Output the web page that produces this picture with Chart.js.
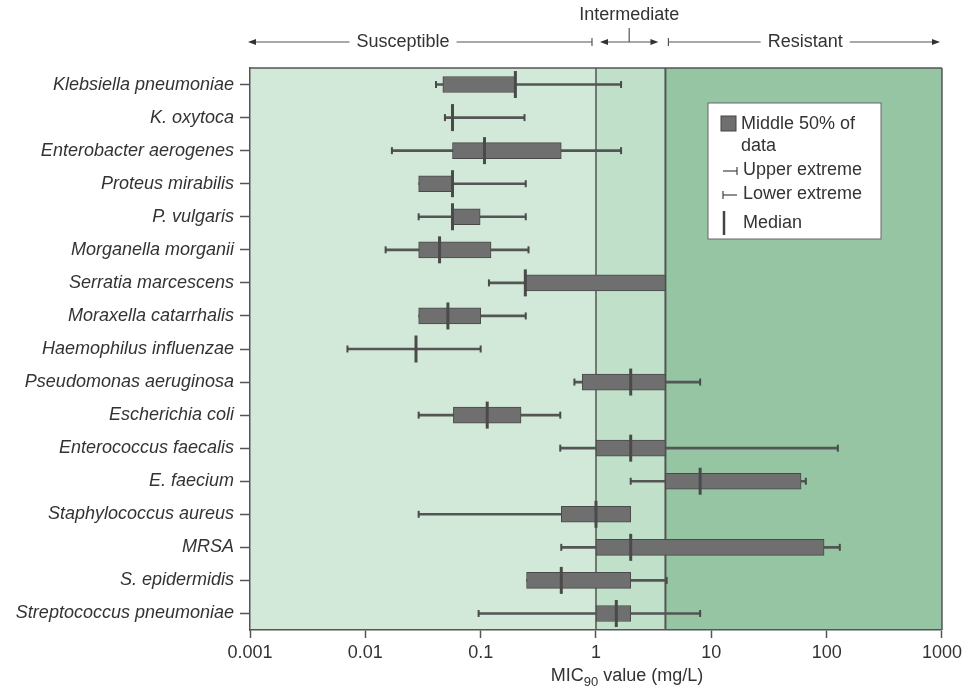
<!DOCTYPE html>
<html lang="en">
  <head>
    <meta charset="UTF-8" />
    <title>MIC90 ranges by organism</title>
    <script src="https://cdn.jsdelivr.net/npm/chart.js"></script>
    <style>
      html,
      body {
        margin: 0;
        padding: 0;
        background: #fff;
      }
      #wrapper {
        width: 966px;
        height: 689px;
      }
    </style>
  </head>
  <body>
    <div id="wrapper">
      <canvas id="micChart"></canvas>
    </div>

    <script>
      // values (mg/L)
      var organisms = [
        "Klebsiella pneumoniae",
        "K. oxytoca",
        "Enterobacter aerogenes",
        "Proteus mirabilis",
        "P. vulgaris",
        "Morganella morganii",
        "Serratia marcescens",
        "Moraxella catarrhalis",
        "Haemophilus influenzae",
        "Pseudomonas aeruginosa",
        "Escherichia coli",
        "Enterococcus faecalis",
        "E. faecium",
        "Staphylococcus aureus",
        "MRSA",
        "S. epidermidis",
        "Streptococcus pneumoniae",
      ];
      var lowerExtreme = [0.041, 0.049, 0.017, 0.029, 0.029, 0.015, 0.118, 0.029, 0.007, 0.65, 0.029, 0.49, 2, 0.029, 0.5, 0.25, 0.096];
      var quartile1 = [0.047, 0.057, 0.057, 0.029, 0.057, 0.029, 0.244, 0.029, 0.0275, 0.76, 0.058, 1, 4, 0.5, 1, 0.25, 1];
      var medians = [0.2, 0.057, 0.108, 0.057, 0.057, 0.044, 0.244, 0.052, 0.0275, 2, 0.114, 2, 8, 1, 2, 0.5, 1.5];
      var quartile3 = [0.2, 0.057, 0.5, 0.057, 0.099, 0.123, 4, 0.1, 0.0275, 4, 0.224, 4, 60, 2, 95, 2, 2];
      var upperExtreme = [1.65, 0.24, 1.65, 0.246, 0.246, 0.26, 4, 0.246, 0.1, 8, 0.49, 125, 66, 2, 130, 4.1, 8];
      var xTicks = [0.001, 0.01, 0.1, 1, 10, 100, 1000];
      var intermediateFrom = 1;
      var resistantFrom = 4;

      var FONT = "'Liberation Sans', Arial, Helvetica, sans-serif";
      var LINE = "#555";

      // build floating bar data from the arrays
      var boxes = [];
      var whiskers = [];
      for (var i = 0; i < organisms.length; i++) {
        boxes.push(quartile3[i] > quartile1[i] ? [quartile1[i], quartile3[i]] : null);
        whiskers.push(upperExtreme[i] > lowerExtreme[i] ? [lowerExtreme[i], upperExtreme[i]] : null);
      }

      function vline(ctx, x, y1, y2) {
        ctx.beginPath();
        ctx.moveTo(x, y1);
        ctx.lineTo(x, y2);
        ctx.stroke();
      }
      function hline(ctx, x1, x2, y) {
        ctx.beginPath();
        ctx.moveTo(x1, y);
        ctx.lineTo(x2, y);
        ctx.stroke();
      }
      function arrowHead(ctx, x, y, dir) {
        ctx.beginPath();
        ctx.moveTo(x, y);
        ctx.lineTo(x - dir * 8, y - 3);
        ctx.lineTo(x - dir * 8, y + 3);
        ctx.closePath();
        ctx.fill();
      }

      // shaded susceptible / intermediate / resistant bands
      var bandsPlugin = {
        id: "bands",
        beforeDraw: function (chart) {
          var ctx = chart.ctx;
          var a = chart.chartArea;
          var x = chart.scales.x;
          var xi = x.getPixelForValue(intermediateFrom);
          var xr = x.getPixelForValue(resistantFrom);
          ctx.save();
          ctx.fillStyle = "#d2e8d8";
          ctx.fillRect(a.left, a.top, xi - a.left, a.bottom - a.top);
          ctx.fillStyle = "#c0e0c9";
          ctx.fillRect(xi, a.top, xr - xi, a.bottom - a.top);
          ctx.fillStyle = "#95c5a2";
          ctx.fillRect(xr, a.top, a.right - xr, a.bottom - a.top);
          ctx.restore();
        },
        beforeDatasetsDraw: function (chart) {
          var ctx = chart.ctx;
          var a = chart.chartArea;
          var x = chart.scales.x;
          ctx.save();
          ctx.strokeStyle = LINE;
          ctx.lineWidth = 1.5;
          vline(ctx, x.getPixelForValue(intermediateFrom), a.top, a.bottom);
          ctx.lineWidth = 2;
          vline(ctx, x.getPixelForValue(resistantFrom), a.top, a.bottom);
          ctx.lineWidth = 1.5;
          hline(ctx, a.left, a.right, a.top);
          vline(ctx, a.right, a.top, a.bottom);
          ctx.restore();
        },
      };

      // median bars and whisker caps
      var marksPlugin = {
        id: "marks",
        afterDatasetsDraw: function (chart) {
          var ctx = chart.ctx;
          var x = chart.scales.x;
          var y = chart.scales.y;
          ctx.save();
          ctx.strokeStyle = "#4a4a4a";
          for (var i = 0; i < organisms.length; i++) {
            var cy = y.getPixelForValue(i);
            ctx.lineWidth = 2;
            if (lowerExtreme[i] < quartile1[i]) vline(ctx, x.getPixelForValue(lowerExtreme[i]), cy - 3.5, cy + 3.5);
            if (upperExtreme[i] > quartile3[i]) vline(ctx, x.getPixelForValue(upperExtreme[i]), cy - 3.5, cy + 3.5);
            ctx.lineWidth = 3;
            vline(ctx, x.getPixelForValue(medians[i]), cy - 13.5, cy + 13.5);
          }
          ctx.restore();
        },
      };

      // header arrows, legend box, axis title
      var notesPlugin = {
        id: "notes",
        afterDraw: function (chart) {
          var ctx = chart.ctx;
          var a = chart.chartArea;
          var x = chart.scales.x;
          var xi = x.getPixelForValue(intermediateFrom);
          var xr = x.getPixelForValue(resistantFrom);
          var ty = 42;
          ctx.save();
          ctx.font = "18px " + FONT;
          ctx.fillStyle = "#333";
          ctx.strokeStyle = LINE;
          ctx.lineWidth = 1.2;
          ctx.textBaseline = "middle";
          ctx.textAlign = "center";

          // susceptible
          var sEnd = xi - 4;
          var sMid = 403;
          var sw = ctx.measureText("Susceptible").width / 2 + 7;
          ctx.fillText("Susceptible", sMid, ty);
          hline(ctx, a.left, sMid - sw, ty);
          hline(ctx, sMid + sw, sEnd, ty);
          arrowHead(ctx, a.left - 2, ty, -1);
          vline(ctx, sEnd, ty - 4, ty + 4);

          // intermediate
          var iL = xi + 4, iR = xr - 7, iMid = (iL + iR) / 2;
          hline(ctx, iL + 4, iR - 4, ty);
          arrowHead(ctx, iL, ty, -1);
          arrowHead(ctx, iR, ty, 1);
          vline(ctx, iMid, ty - 14, ty);
          ctx.fillText("Intermediate", iMid, 15);

          // resistant
          var rStart = xr + 3;
          var rMid = (rStart + a.right) / 2;
          var rw = ctx.measureText("Resistant").width / 2 + 7;
          ctx.fillText("Resistant", rMid, ty);
          vline(ctx, rStart, ty - 4, ty + 4);
          hline(ctx, rStart, rMid - rw, ty);
          hline(ctx, rMid + rw, a.right - 4, ty);
          arrowHead(ctx, a.right - 2, ty, 1);

          // legend
          var lx = 708, ly = 103;
          ctx.fillStyle = "#fff";
          ctx.fillRect(lx, ly, 173, 136);
          ctx.strokeStyle = "#666";
          ctx.lineWidth = 1;
          ctx.strokeRect(lx, ly, 173, 136);
          ctx.fillStyle = "#6f6f6f";
          ctx.fillRect(lx + 13, ly + 13, 15, 15);
          ctx.strokeStyle = "#444";
          ctx.strokeRect(lx + 13, ly + 13, 15, 15);
          ctx.fillStyle = "#333";
          ctx.textAlign = "left";
          ctx.fillText("Middle 50% of", lx + 33, ly + 21);
          ctx.fillText("data", lx + 33, ly + 43);
          ctx.fillText("Upper extreme", lx + 35, ly + 67);
          ctx.fillText("Lower extreme", lx + 35, ly + 91);
          ctx.fillText("Median", lx + 35, ly + 120);
          ctx.strokeStyle = "#444";
          ctx.lineWidth = 1.2;
          hline(ctx, lx + 15, lx + 29, ly + 68);
          vline(ctx, lx + 29, ly + 64, ly + 72);
          hline(ctx, lx + 15, lx + 29, ly + 92);
          vline(ctx, lx + 15, ly + 88, ly + 96);
          ctx.lineWidth = 2.5;
          vline(ctx, lx + 16, ly + 108, ly + 132);

          // x axis title with subscript
          ctx.fillStyle = "#333";
          ctx.textAlign = "left";
          ctx.textBaseline = "alphabetic";
          var t1 = "MIC", t3 = " value (mg/L)";
          ctx.font = "18px " + FONT;
          var w1 = ctx.measureText(t1).width, w3 = ctx.measureText(t3).width;
          ctx.font = "13px " + FONT;
          var w2 = ctx.measureText("90").width;
          var start = 627 - (w1 + w2 + w3) / 2;
          var base = 681;
          ctx.font = "18px " + FONT;
          ctx.fillText(t1, start, base);
          ctx.font = "13px " + FONT;
          ctx.fillText("90", start + w1, base + 5);
          ctx.font = "18px " + FONT;
          ctx.fillText(t3, start + w1 + w2, base);
          ctx.restore();
        },
      };

      var ctx = document.getElementById("micChart").getContext("2d");
      var chart = new Chart(ctx, {
        type: "bar",
        data: {
          labels: organisms,
          datasets: [
            {
              label: "Middle 50% of data",
              data: boxes,
              backgroundColor: "#6f6f6f",
              borderColor: "#4a4a4a",
              borderWidth: 1,
              borderSkipped: false,
              barThickness: 16,
            },
            {
              label: "Range",
              data: whiskers,
              backgroundColor: "#555",
              borderWidth: 0,
              barThickness: 2,
            },
          ],
        },
        options: {
          indexAxis: "y",
          responsive: true,
          maintainAspectRatio: false,
          animation: false,
          layout: { padding: { top: 68, right: 23, left: 0, bottom: 0 } },
          datasets: { bar: { grouped: false } },
          plugins: {
            legend: { display: false },
            tooltip: { enabled: false },
          },
          scales: {
            x: {
              type: "logarithmic",
              min: 0.001,
              max: 1000,
              afterBuildTicks: function (scale) {
                scale.ticks = xTicks.map(function (v) {
                  return { value: v };
                });
              },
              ticks: {
                autoSkip: false,
                maxRotation: 0,
                color: "#333",
                padding: 4,
                font: { size: 18, family: FONT },
                callback: function (v) {
                  return String(v);
                },
              },
              grid: {
                drawOnChartArea: false,
                tickLength: 8,
                tickColor: LINE,
                tickWidth: 1.5,
              },
              border: { display: true, color: LINE, width: 1.5 },
              afterFit: function (scale) {
                scale.height = 59;
              },
            },
            y: {
              ticks: {
                color: "#333",
                padding: 6,
                font: { size: 18, style: "italic", family: FONT },
              },
              grid: {
                offset: false,
                drawOnChartArea: false,
                tickLength: 10,
                tickColor: LINE,
                tickWidth: 1.5,
              },
              border: { display: true, color: LINE, width: 1.5 },
              afterFit: function (scale) {
                scale.width = 250;
              },
            },
          },
        },
        plugins: [bandsPlugin, marksPlugin, notesPlugin],
      });
    </script>
  </body>
</html>
